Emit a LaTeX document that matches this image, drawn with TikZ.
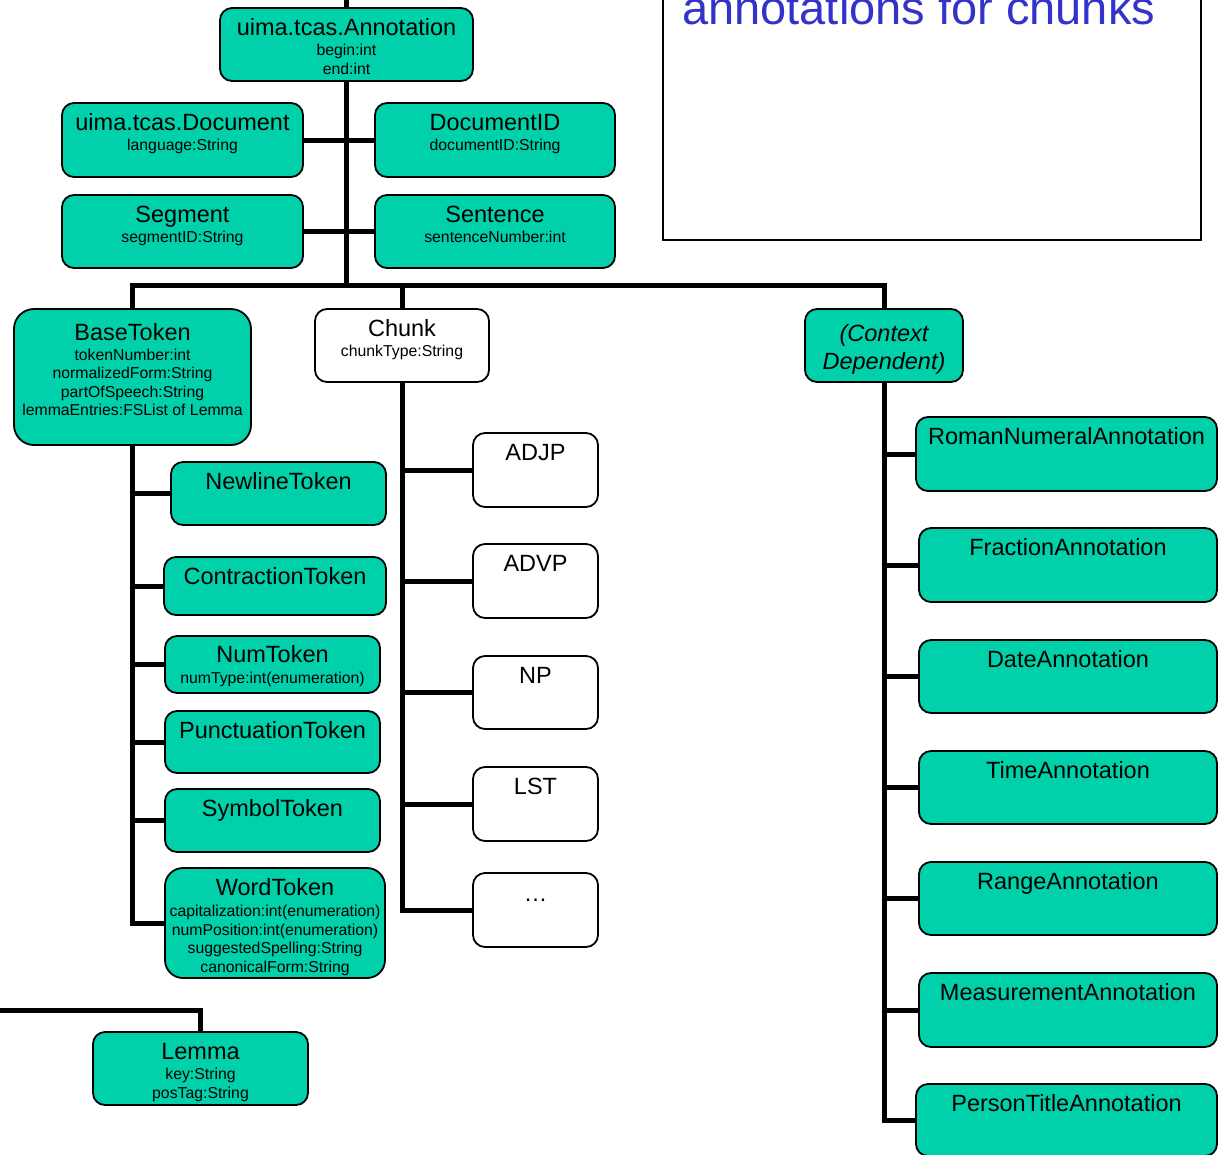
\documentclass[tikz,border=0pt]{standalone}
\usepackage{fontspec}
\setmainfont{Liberation Sans}
\definecolor{typefill}{RGB}{0,209,170}
\definecolor{noteblue}{RGB}{51,51,204}
% box from corner (x1,y1) to corner (x2,y2): name, x1, y1, x2, y2, style
\newcommand\typebx[6]{%
  \node[#6, minimum width={(#4-#2)*1pt}, minimum height={(#5-#3)*1pt}]
    (#1) at ({(#2+#4)/2},{(#3+#5)/2}) {};}
% title line of a box, baseline a given distance below its top edge
\newcommand\ttl[3]{\node[ttlfont, anchor=base] at ([yshift=-#2pt]#1.north) {#3};}
% attribute lines of a box: name, first baseline offset, list
\newcommand\attrs[3]{%
  \foreach \t [count=\i] in {#3}
    \node[attrfont, anchor=base] at ([yshift={-(#2+18.5*(\i-1))*1pt}]#1.north) {\t};}
\begin{document}
\begin{tikzpicture}[x=1pt,y=-1pt,
  conn/.style={line width=5pt},
  boxbase/.style={draw, line width=1.8pt, rounded corners=12pt, inner sep=0pt, outer sep=0pt},
  typebox/.style={boxbase, fill=typefill},
  plainbox/.style={boxbase, fill=white},
  ttlfont/.style={font=\fontsize{23.5}{28}\selectfont, inner sep=0pt},
  attrfont/.style={font=\fontsize{15.8}{18.5}\selectfont, inner sep=0pt},
]
\useasboundingbox (0,0) rectangle (1226,1154);
\clip (0,0) rectangle (1226,1154);

% note box
\draw[line width=2pt, fill=white] (663,-20) rectangle (1201,240);
\node[font=\fontsize{47}{56}\selectfont, text=noteblue, anchor=base west, inner sep=0pt]
  (note) at (682,24) {annotations for chunks};

% upper hierarchy
\typebx{ann}{220}{8}{473}{81}{typebox}
\typebx{doc}{62}{103}{303}{177}{typebox}
\typebx{docid}{375}{103}{615}{177}{typebox}
\typebx{seg}{62}{195}{303}{268}{typebox}
\typebx{sent}{375}{195}{615}{268}{typebox}
\typebx{base}{14}{309}{251}{445}{typebox, rounded corners=20pt}
\typebx{chunk}{315}{309}{489}{382}{plainbox}
\typebx{ctx}{805}{309}{963}{382}{typebox}

% token types
\typebx{newline}{171}{462}{386}{525}{typebox}
\typebx{contr}{164}{557}{386}{615}{typebox}
\typebx{num}{165}{636}{380}{693}{typebox}
\typebx{punct}{165}{711}{380}{773}{typebox}
\typebx{symbol}{165}{789}{380}{852}{typebox}
\typebx{word}{165}{868}{385}{978}{typebox, rounded corners=18pt}
\typebx{lemma}{93}{1032}{308}{1105}{typebox}

% chunk types
\typebx{adjp}{473}{433}{598}{507}{plainbox}
\typebx{advp}{473}{544}{598}{618}{plainbox}
\typebx{np}{473}{656}{598}{729}{plainbox}
\typebx{lst}{473}{767}{598}{841}{plainbox}
\typebx{more}{473}{873}{598}{947}{plainbox}

% context dependent annotations
\typebx{roman}{916}{417}{1217}{491}{typebox}
\typebx{frac}{919}{528}{1217}{602}{typebox}
\typebx{date}{919}{640}{1217}{713}{typebox}
\typebx{time}{919}{751}{1217}{824}{typebox}
\typebx{range}{919}{862}{1217}{935}{typebox}
\typebx{meas}{919}{973}{1217}{1047}{typebox}
\typebx{ptitle}{916}{1084}{1217}{1156}{typebox}

% texts
\ttl{ann}{27.5}{uima.tcas.Annotation}
\attrs{ann}{47.5}{begin:int,end:int}
\ttl{doc}{27.5}{uima.tcas.Document}
\attrs{doc}{47.5}{language:String}
\ttl{docid}{27.5}{DocumentID}
\attrs{docid}{47.5}{documentID:String}
\ttl{seg}{27.5}{Segment}
\attrs{seg}{47.5}{segmentID:String}
\ttl{sent}{27.5}{Sentence}
\attrs{sent}{47.5}{sentenceNumber:int}
\ttl{base}{31}{BaseToken}
\attrs{base}{51}{tokenNumber:int,normalizedForm:String,partOfSpeech:String,lemmaEntries:FSList of Lemma}
\ttl{chunk}{27.5}{Chunk}
\attrs{chunk}{47.5}{chunkType:String}
\node[ttlfont, anchor=base] at ([yshift=-32.5pt]ctx.north) {\itshape (Context};
\node[ttlfont, anchor=base] at ([yshift=-60.5pt]ctx.north) {\itshape Dependent)};

\ttl{newline}{27.5}{NewlineToken}
\ttl{contr}{27.5}{ContractionToken}
\ttl{num}{26.5}{NumToken}
\attrs{num}{47.5}{numType:int(enumeration)}
\ttl{punct}{27.5}{PunctuationToken}
\ttl{symbol}{27.5}{SymbolToken}
\ttl{word}{27.5}{WordToken}
\attrs{word}{48.5}{capitalization:int(enumeration),numPosition:int(enumeration),suggestedSpelling:String,canonicalForm:String}
\ttl{lemma}{27.5}{Lemma}
\attrs{lemma}{47.5}{key:String,posTag:String}

\ttl{adjp}{27.5}{ADJP}
\ttl{advp}{27.5}{ADVP}
\ttl{np}{27.5}{NP}
\ttl{lst}{27.5}{LST}
\ttl{more}{28}{…}

\ttl{roman}{27.5}{RomanNumeralAnnotation}
\ttl{frac}{27.5}{FractionAnnotation}
\ttl{date}{27.5}{DateAnnotation}
\ttl{time}{27.5}{TimeAnnotation}
\ttl{range}{27.5}{RangeAnnotation}
\ttl{meas}{27.5}{MeasurementAnnotation}
\ttl{ptitle}{27.5}{PersonTitleAnnotation}

% connectors
\coordinate (topend) at (346.5,-20);
\coordinate (bar) at (346.5,285);
\coordinate (lemmaend) at (-20,1010);
\draw[conn] (topend) -- (ann.north);
\draw[conn] (ann.south) -- (bar);
\draw[conn] (doc.east) -- (docid.west);
\draw[conn] (seg.east) -- (sent.west);
\draw[conn] (base.north) |- (bar) -| (ctx.north);
\draw[conn] (chunk.north) -- (chunk.north |- bar);

\draw[conn] (base.south) |- (word.west);
\foreach \c in {newline,contr,num,punct,symbol}
  \draw[conn] (\c.west) -- (\c.west -| base.south);

\draw[conn] (chunk.south) |- (more.west);
\foreach \c in {adjp,advp,np,lst}
  \draw[conn] (\c.west) -- (\c.west -| chunk.south);

\draw[conn] (ctx.south) |- (ptitle.west);
\foreach \c in {roman,frac,date,time,range,meas}
  \draw[conn] (\c.west) -- (\c.west -| ctx.south);

\draw[conn] (lemmaend) -| (lemma.north);
\end{tikzpicture}
\end{document}
